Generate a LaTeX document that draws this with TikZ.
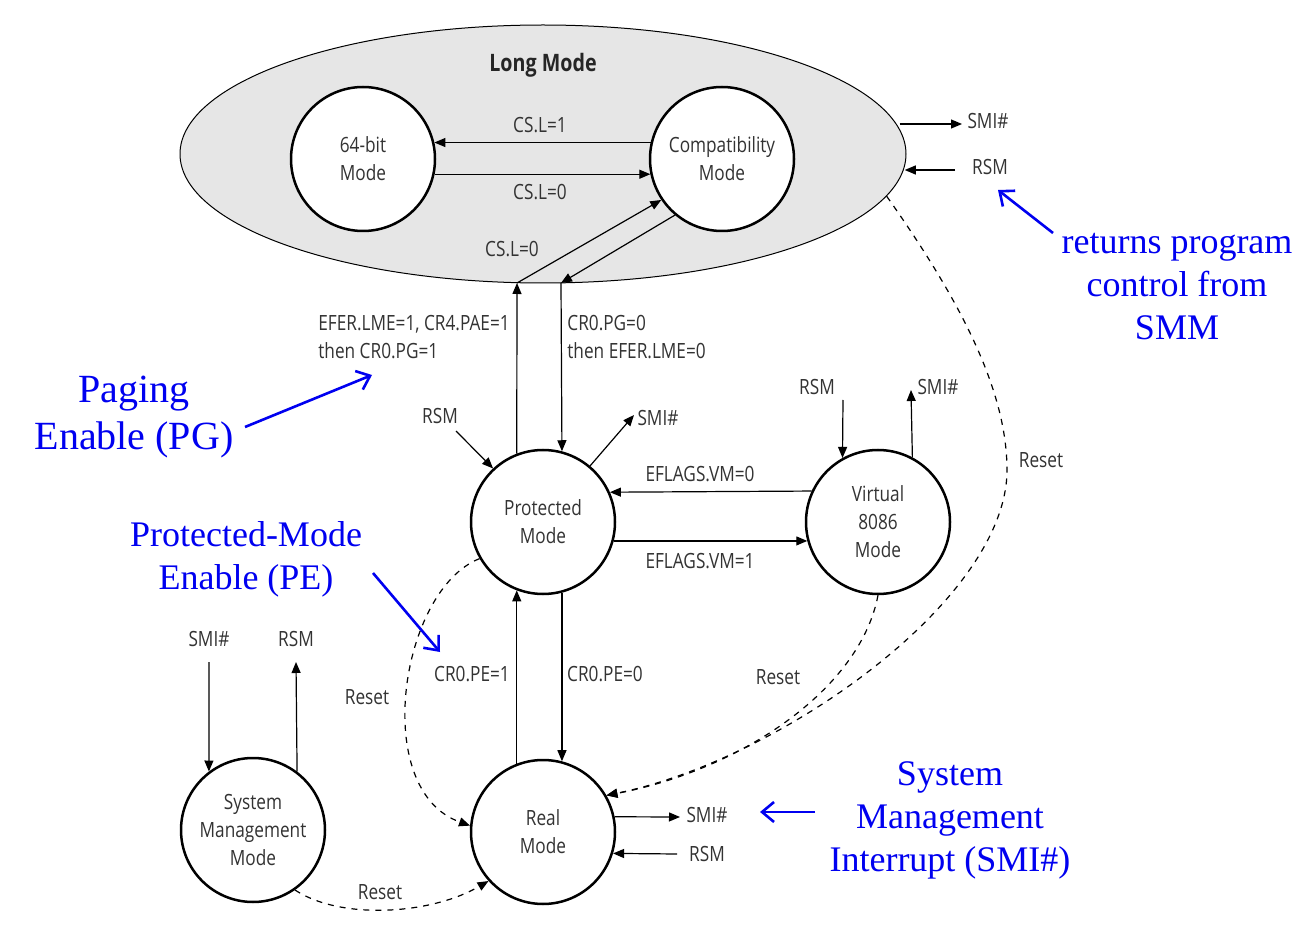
\documentclass[tikz,border=0pt]{standalone}
\usepackage{fontspec}
\setmainfont{Liberation Serif}
\newfontfamily\diag{Open Sans}[FakeStretch=0.82]
\usetikzlibrary{arrows.meta,shapes.geometric}
\definecolor{txt}{HTML}{333333}
\definecolor{annblue}{RGB}{0,0,240}
\definecolor{lmfill}{HTML}{E6E6E6}
\tikzset{
  mode/.style={circle, draw, line width=1.25pt, minimum size=72pt, inner sep=0pt,
    align=center, font=\diag\fontsize{10.5}{14}\selectfont, text=txt, fill=white},
  lbl/.style={font=\diag\fontsize{10.5}{14}\selectfont, text=txt, inner sep=1pt},
  arr/.style={-{Triangle[length=5.5pt,width=4.5pt]}, line width=0.6pt},
  rst/.style={arr, dash pattern=on 3pt off 3pt},
  ann/.style={font=\fontsize{18}{21.5}\selectfont, text=annblue, align=center},
  annarr/.style={-{Straight Barb[length=6pt,width=10pt]}, line width=1.3pt, draw=annblue},
}
\begin{document}
\begin{tikzpicture}[x=0.5pt,y=-0.5pt]
\fill[white] (0,0) rectangle (1308,936);
\useasboundingbox (0,0) rectangle (1308,936);

% Long mode ellipse
\node[ellipse, draw, fill=lmfill, line width=0.5pt, minimum width=363pt, minimum height=129pt, inner sep=0pt] (lm) at (543,154) {};
\node[font=\diag\bfseries\fontsize{12}{14}\selectfont, text=black!85] (lmt) at (543,65) {Long Mode};

% modes
\node[mode] (b64) at (363,159) {64-bit\\Mode};
\node[mode] (cm) at (722,159) {Compatibility\\Mode};
\node[mode] (pm) at (543,522) {Protected\\Mode};
\node[mode] (v86) at (878,522) {Virtual\\8086\\Mode};
\node[mode] (rm) at (543,832) {Real\\Mode};
\node[mode] (smm) at (253,830) {System\\Management\\Mode};

% inside long mode
\draw[arr] (cm.167) -- (b64.13);
\draw[arr] (b64.-12) -- (cm.192);
\node[lbl] (csl1) at (540,125) {CS.L=1};
\node[lbl] (csl0) at (540,192) {CS.L=0};

\coordinate (j1) at (517,283);
\coordinate (j2) at (561,283);
\draw[arr] (pm.111) -- (j1);
\draw[arr] (j1) -- (cm.214);
\draw[arr] (cm.230) -- (j2);
\draw[arr] (j2) -- (pm.75.5);
\node[lbl] (csl0b) at (512,249) {CS.L=0};
\node[lbl, align=left, anchor=west] (pgon) at (316,337) {EFER.LME=1, CR4.PAE=1\\then CR0.PG=1};
\node[lbl, align=left, anchor=west] (pgoff) at (565,337) {CR0.PG=0\\then EFER.LME=0};

% long mode SMI/RSM
\node[lbl] (lmsmi) at (988,121) {SMI\#};
\node[lbl] (lmrsm) at (990,167) {RSM};
\coordinate (lmsmitip) at (962,124);
\coordinate (lmrsmtail) at (955,170);
\draw[arr] (lm.4.9 |- lmsmitip) -- (lmsmitip);
\draw[arr] (lmrsmtail) -- (lm.-2.5 |- lmrsmtail);

% protected mode SMI/RSM
\node[lbl] (pmrsm) at (440,416) {RSM};
\node[lbl] (pmsmi) at (658,418) {SMI\#};
\coordinate (pmrsmtail) at (456,431);
\coordinate (pmsmitip) at (634,415);
\draw[arr] (pmrsmtail) -- (pm.133);
\draw[arr] (pm.50) -- (pmsmitip);

% EFLAGS
\draw[arr] (v86.155.4) -- (pm.24.6);
\draw[arr] (pm.-15.3) -- (v86.195.3);
\node[lbl] (vm0) at (700,474) {EFLAGS.VM=0};
\node[lbl] (vm1) at (700,561) {EFLAGS.VM=1};

% V86 SMI/RSM
\node[lbl] (vrsm) at (817,387) {RSM};
\node[lbl] (vsmi) at (938,387) {SMI\#};
\coordinate (vrsmtail) at (843,400);
\coordinate (vsmitip) at (911,390);
\draw[arr] (vrsmtail) -- (v86.119);
\draw[arr] (v86.62.7) -- (vsmitip);

% PE
\draw[arr] (rm.111) -- (pm.-111);
\draw[arr] (pm.-75.5) -- (rm.75.5);
\node[lbl] (pe1) at (472,674) {CR0.PE=1};
\node[lbl] (pe0) at (605,674) {CR0.PE=0};

% Real SMI/RSM
\node[lbl] (rsmi) at (707,815) {SMI\#};
\node[lbl] (rrsm) at (707,854) {RSM};
\coordinate (rsmitip) at (680,817);
\coordinate (rrsmtail) at (677,854);
\draw[arr] (rm.12) -- (rsmitip);
\draw[arr] (rrsmtail) -- (rm.-17.8);

% SMM SMI/RSM
\node[lbl] (ssmi) at (209,639) {SMI\#};
\node[lbl] (srsm) at (296,639) {RSM};
\coordinate (ssmitail) at (209,662);
\coordinate (srsmtip) at (296,662);
\draw[arr] (ssmitail) -- (smm.127.7);
\draw[arr] (smm.53.3) -- (srsmtip);

% resets
\coordinate (rv) at (1007,470);
\draw[rst] (lm.-7.7) .. controls (960,300) and (1007,390) .. (rv) .. controls (1007,600) and (780,760) .. (rm.30);
\draw[rst] (v86.-90) .. controls (860,690) and (740,770) .. (rm.30);
\draw[rst] (pm.210) .. controls (400,590) and (370,790) .. (rm.175);
\draw[rst] (smm.-55) .. controls (340,920) and (430,915) .. (rm.222);
\node[lbl] (r1) at (1041,460) {Reset};
\node[lbl] (r2) at (778,677) {Reset};
\node[lbl] (r3) at (367,697) {Reset};
\node[lbl] (r4) at (380,892) {Reset};

% annotations
\node[ann, font=\fontsize{20}{23.5}\selectfont] (pg) at (134,417) {Paging\\Enable (PG)};
\coordinate (pga) at (245,427);
\coordinate (pgb) at (372,375);
\draw[annarr] (pga) -- (pgb);

\node[ann] (pe) at (246,559) {Protected-Mode\\Enable (PE)};
\coordinate (pea) at (373,573);
\coordinate (peb) at (440,652);
\draw[annarr] (pea) -- (peb);

\node[ann] (ret) at (1177,287) {returns program\\control from\\SMM};
\coordinate (reta) at (1053,233);
\coordinate (retb) at (998,190);
\draw[annarr] (reta) -- (retb);

\node[ann] (smian) at (950,820) {System\\Management\\Interrupt (SMI\#)};
\coordinate (smia) at (815,812);
\coordinate (smib) at (760,812);
\draw[annarr] (smia) -- (smib);
\end{tikzpicture}
\end{document}
